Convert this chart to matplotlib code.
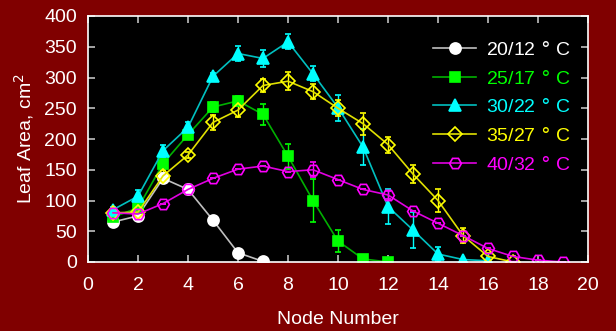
import numpy as np
import matplotlib
matplotlib.use('Agg')
from matplotlib.pyplot import subplots, savefig
from matplotlib.lines import Line2D

# Data
LABELS = ['20/12 $\\degree$ C', '25/17 $\\degree$ C', '30/22 $\\degree$ C',
          '35/27 $\\degree$ C', '40/32 $\\degree$ C']

nodes_20 = [1, 2, 3, 4, 5, 6, 7]
area_20 = [65, 75, 136, 118, 68, 15, 1]
err_20 = [0, 0, 8, 0, 0, 0, 0]

nodes_25 = [1, 2, 3, 4, 5, 6, 7, 8, 9, 10, 11, 12]
area_25 = [73, 88, 160, 207, 252, 262, 240, 172, 100, 34, 5, 0]
err_25 = [5, 6, 8, 7, 8, 8, 17, 20, 35, 18, 0, 3]

nodes_30 = [1, 2, 3, 4, 5, 6, 7, 8, 9, 10, 11, 12, 13, 14, 15, 16]
area_30 = [85, 107, 181, 219, 302, 339, 331, 358, 306, 251, 187, 90, 52, 13, 4, 2]
err_30 = [4, 10, 10, 8, 6, 12, 14, 12, 12, 21, 30, 28, 30, 12, 0, 0]

nodes_35 = [1, 2, 3, 4, 5, 6, 7, 8, 9, 10, 11, 12, 13, 14, 15, 16, 17]
area_35 = [80, 81, 140, 174, 227, 247, 287, 294, 277, 250, 225, 191, 143, 100, 43, 9, 0]
err_35 = [3, 4, 10, 5, 12, 12, 11, 15, 12, 13, 18, 13, 15, 19, 12, 5, 0]

nodes_40 = [1, 2, 3, 4, 5, 6, 7, 8, 9, 10, 11, 12, 13, 14, 15, 16, 17, 18, 19]
area_40 = [80, 78, 95, 118, 136, 151, 156, 147, 150, 134, 118, 109, 83, 63, 43, 22, 9, 3, 0]
err_40 = [0, 0, 0, 0, 0, 0, 0, 0, 12, 0, 0, 6, 0, 0, 0, 0, 0, 0, 0]

BG = '#800000'
FONT = 'Liberation Sans'

def draw_series(ax, x, y, e, line_c, mark_c, marker, ms, filled, label):
    style = dict(color=line_c, lw=1.2, marker=marker, ms=ms,
                 mfc=mark_c if filled else 'none', mec=mark_c, mew=1.2)
    ax.errorbar(x, y, yerr=e, ecolor=mark_c, elinewidth=1,
                capsize=2.5, capthick=1, **style)
    return Line2D([], [], label=label, **style)

f, ax = subplots(figsize=[6.16, 3.31], dpi=100)
f.patch.set_facecolor(BG)
ax.set_facecolor('black')
ax.set_position([88/616, 69/331, 500/616, 246/331])

handles = [
    draw_series(ax, nodes_20, area_20, err_20, '#c0c0c0', 'white', 'o', 8, True, LABELS[0]),
    draw_series(ax, nodes_25, area_25, err_25, '#00b000', '#00ff00', 's', 7, True, LABELS[1]),
    draw_series(ax, nodes_30, area_30, err_30, '#00c0c0', '#00ffff', '^', 8, True, LABELS[2]),
    draw_series(ax, nodes_35, area_35, err_35, '#e0e000', '#ffff00', 'D', 7, False, LABELS[3]),
    draw_series(ax, nodes_40, area_40, err_40, '#e000e0', '#ff00ff', 'H', 8.5, False, LABELS[4]),
]

ax.set_xlim(0, 20)
ax.set_ylim(0, 400)
ax.set_xticks(np.arange(0, 21, 2))
ax.set_yticks(np.arange(0, 401, 50))

for s in ax.spines.values():
    s.set_color('white')
    s.set_linewidth(1.2)
ax.tick_params(direction='in', length=5, color='#c0c0c0', width=1.2,
               labelcolor='white', labelsize=14, top=True, right=True)
ax.tick_params(axis='x', pad=11)
ax.tick_params(axis='y', pad=8)
for lab in ax.get_xticklabels() + ax.get_yticklabels():
    lab.set_family(FONT)

ax.set_xlabel('Node Number', color='white', fontsize=14,
              family=FONT, labelpad=12)
ax.set_ylabel('Leaf Area, cm$^2$', color='white', fontsize=14,
              family=FONT, labelpad=6)

leg = ax.legend(handles=handles, loc='upper right', bbox_to_anchor=(1.0, 0.97),
                frameon=False, handlelength=2.2, handletextpad=0.5,
                labelspacing=0.55, prop={'family': FONT, 'size': 14})
for t, c in zip(leg.get_texts(), ['white', '#00ff00', '#00ffff', '#ffff00', '#ff00ff']):
    t.set_color(c)

savefig('out.png', facecolor=BG)
